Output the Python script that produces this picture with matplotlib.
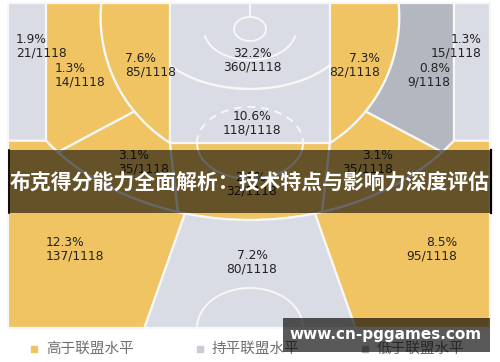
import numpy as np
import matplotlib
matplotlib.use("Agg")
import matplotlib.pyplot as plt
from matplotlib.patches import Polygon, Rectangle

plt.rcParams['font.family'] = ['DejaVu Sans', 'Noto Sans CJK SC']

# ---- data ----
total = 1118
zones = ['l_corner3', 'l_long2', 'l_short2', 'restricted', 'paint', 'r_short2', 'r_long2',
         'r_corner3', 'l_elbow', 'center', 'r_elbow', 'l_wing3', 'top3', 'r_wing3']
made = [21, 14, 85, 360, 118, 82, 9, 15, 35, 32, 35, 137, 80, 95]
level = ['par', 'above', 'above', 'par', 'par', 'above', 'below',
         'par', 'above', 'above', 'above', 'above', 'par', 'above']

legend_labels = ['高于联盟水平', '持平联盟水平', '低于联盟水平']
level_colors = {'above': '#F0C462', 'par': '#D9DCE4', 'below': '#B3B7BF'}
legend_colors = ['#F0C462', '#C9CCD3', '#B3B7BF']

title = '布克得分能力全面解析：技术特点与影响力深度评估'
watermark = 'www.cn-pggames.com'

# ---- court geometry (pixel space, y down) ----
X0, X1, Y0, Y1 = 8, 490, 3, 328
PL, PR, PB = 170, 330, 143
C3L, C3R = 46, 454
three = (250, 28, 252, 192)      # 3pt arc ellipse cx, cy, a, b
mid = (250, 17, 149.3, 149.3)    # mid-range circle
ra = (250, 28, 101, 61)          # paint split arc


def ell_y(e, x):
    cx, cy, a, b = e
    return cy + b * np.sqrt(1 - ((x - cx) / a) ** 2)


def ell_x(e, y, side):
    cx, cy, a, b = e
    return cx + side * a * np.sqrt(1 - ((y - cy) / b) ** 2)


def arc(e, p0, p1, n=60):
    cx, cy, a, b = e
    t0 = np.arctan2((p0[1] - cy) / b, (p0[0] - cx) / a)
    t1 = np.arctan2((p1[1] - cy) / b, (p1[0] - cx) / a)
    if t1 - t0 > np.pi:
        t1 -= 2 * np.pi
    elif t1 - t0 < -np.pi:
        t1 += 2 * np.pi
    t = np.linspace(t0, t1, n)
    return [(cx + a * np.cos(v), cy + b * np.sin(v)) for v in t]


def ray_hit(e, origin, ang):
    cx, cy, a, b = e
    ox, oy = origin
    dx, dy = np.cos(ang), np.sin(ang)
    A = (dx / a) ** 2 + (dy / b) ** 2
    B = 2 * ((ox - cx) * dx / a ** 2 + (oy - cy) * dy / b ** 2)
    C = ((ox - cx) / a) ** 2 + ((oy - cy) / b) ** 2 - 1
    t = (-B + np.sqrt(B * B - 4 * A * C)) / (2 * A)
    return (ox + t * dx, oy + t * dy)


def line_to_y(p0, p1, y):
    return (p0[0] + (p1[0] - p0[0]) * (y - p0[1]) / (p1[1] - p0[1]), y)


c3y = ell_y(three, C3L)
mid_top_l = (ell_x(mid, Y0, -1), Y0)
mid_top_r = (ell_x(mid, Y0, 1), Y0)
ray_o = (250, 50)
ang = np.radians(28)
mL, eL = ray_hit(mid, ray_o, np.pi - ang), ray_hit(three, ray_o, np.pi - ang)
mR, eR = ray_hit(mid, ray_o, ang), ray_hit(three, ray_o, ang)
cL, cR = (178, ell_y(three, 178)), (322, ell_y(three, 322))
wL, wR = (185, ell_y(three, 185)), (315, ell_y(three, 315))
wLb, wRb = line_to_y((250, 30), wL, Y1), line_to_y((250, 30), wR, Y1)
raL, raR = (PL, ell_y(ra, PL)), (PR, ell_y(ra, PR))

shapes = {
    'l_corner3': [(X0, Y0), (C3L, Y0), (C3L, c3y), (X0, c3y)],
    'r_corner3': [(C3R, Y0), (X1, Y0), (X1, c3y), (C3R, c3y)],
    'l_long2': [(C3L, Y0), mid_top_l] + arc(mid, mid_top_l, mL) + arc(three, eL, (C3L, c3y)),
    'r_long2': [(C3R, Y0), mid_top_r] + arc(mid, mid_top_r, mR) + arc(three, eR, (C3R, c3y)),
    'l_short2': [mid_top_l, (PL, Y0), (PL, PB)] + arc(mid, (PL, PB), mid_top_l),
    'r_short2': [mid_top_r, (PR, Y0), (PR, PB)] + arc(mid, (PR, PB), mid_top_r),
    'l_elbow': arc(mid, mL, (PL, PB)) + arc(three, cL, eL),
    'r_elbow': arc(mid, mR, (PR, PB)) + arc(three, cR, eR),
    'center': [(PL, PB), (PR, PB)] + arc(three, cR, cL),
    'restricted': [(PL, Y0), (PR, Y0)] + arc(ra, raR, raL),
    'paint': arc(ra, raL, raR) + [(PR, PB), (PL, PB)],
    'l_wing3': [(X0, c3y), (C3L, c3y)] + arc(three, (C3L, c3y), wL) + [wLb, (X0, Y1)],
    'r_wing3': [(X1, c3y), (C3R, c3y)] + arc(three, (C3R, c3y), wR) + [wRb, (X1, Y1)],
    'top3': arc(three, wL, wR) + [wRb, wLb],
}

# label anchor (x, y, ha)
label_pos = {
    'l_corner3': (16, 33, 'left'), 'l_long2': (55, 62, 'left'), 'l_short2': (125, 52, 'left'),
    'restricted': (252, 47, 'center'), 'paint': (252, 110, 'center'),
    'r_short2': (380, 52, 'right'), 'r_long2': (450, 62, 'right'), 'r_corner3': (482, 33, 'right'),
    'l_elbow': (118, 149, 'left'), 'center': (251, 171, 'center'), 'r_elbow': (393, 149, 'right'),
    'l_wing3': (46, 236, 'left'), 'top3': (252, 249, 'center'), 'r_wing3': (457, 236, 'right'),
}

fig = plt.figure(figsize=(5, 3.62), dpi=100)
ax = fig.add_axes([0, 0, 1, 1])
ax.set_xlim(0, 500)
ax.set_ylim(362, 0)
ax.axis('off')

for z, m, lv in zip(zones, made, level):
    ax.add_patch(Polygon(shapes[z], closed=True, facecolor=level_colors[lv],
                         edgecolor='#F7F7F7', linewidth=1.6, zorder=1))
    x, y, ha = label_pos[z]
    ax.text(x, y, f'{m / total * 100:.1f}%\n{m}/{total}', ha=ha, va='top',
            fontsize=8.8, color='#222222', linespacing=1.02, zorder=3)

# court markings
lw, lc = 1.4, '#F7F7F7'
t = np.linspace(0, 2 * np.pi, 100)
ax.plot(250 + 16 * np.cos(t), 29 + 12 * np.sin(t), color=lc, lw=lw, zorder=2)
ax.plot([250, 250], [Y0, 17], color=lc, lw=lw, zorder=2)
t = np.linspace(np.radians(12), np.radians(168), 60)
ax.plot(250 + 46 * np.cos(t), 30 + 30 * np.sin(t), color=lc, lw=lw, zorder=2)
t = np.linspace(np.pi, 2 * np.pi, 60)
ax.plot(250 + 53 * np.cos(t), PB + 36 * np.sin(t), color=lc, lw=lw, ls=(0, (4, 3)), zorder=2)
t = np.linspace(0, np.pi, 60)
ax.plot(250 + 53 * np.cos(t), PB + 36 * np.sin(t), color=lc, lw=lw, zorder=2)
t = np.linspace(np.pi, 2 * np.pi, 60)
ax.plot(250 + 53 * np.cos(t), Y1 + 40 * np.sin(t), color=lc, lw=lw, zorder=2)

# legend
leg_x = [34, 200, 365]
for lx, lab, col in zip(leg_x, legend_labels, legend_colors):
    ax.scatter([lx], [349], marker='s', s=22, color=col, zorder=3)
    ax.text(lx + 12, 349, lab, ha='left', va='center', fontsize=10.5, color='#707070',
            family=['Noto Sans CJK SC', 'DejaVu Sans'], zorder=3)

# title banner
ax.add_patch(Rectangle((8, 150), 484, 63, facecolor='black', alpha=0.58, lw=0, zorder=5))
ax.plot([8.5, 8.5], [150, 213], color='black', lw=1.2, zorder=5)
ax.plot([491, 491], [150, 213], color='black', lw=1.6, zorder=5)
ax.text(250, 182, title, ha='center', va='center', color='white', fontsize=15,
        fontweight='bold', family=['Noto Sans CJK SC', 'DejaVu Sans'], zorder=6)

# watermark
ax.add_patch(Rectangle((283, 318), 207, 34, facecolor='black', alpha=0.65, lw=0, zorder=7))
ax.text(386, 335, watermark, ha='center', va='center', color='white', fontsize=11,
        fontweight='bold', zorder=8)

fig.savefig('out.png', dpi=100)
